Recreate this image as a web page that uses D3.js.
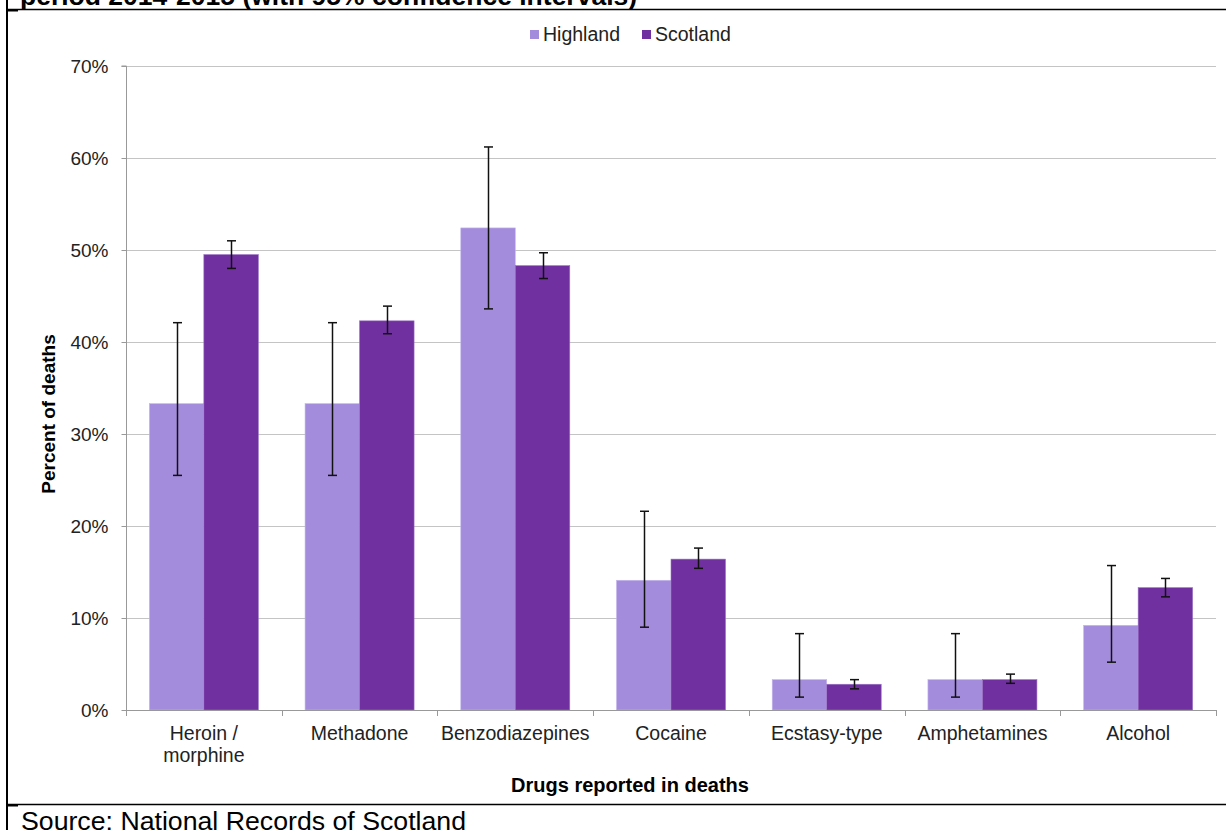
<!DOCTYPE html>
<html>
<head>
<meta charset="utf-8">
<script src="https://cdn.jsdelivr.net/npm/d3@7"></script>
<style>
  html, body { margin: 0; padding: 0; background: #fff; }
  svg { display: block; font-family: "Liberation Sans", Arial, sans-serif; }
</style>
</head>
<body>
<svg id="chart" width="1226" height="830"></svg>
<script>
// Drugs reported in drug-related deaths, Highland vs Scotland (percent, with 95% CI)
const categories = [["Heroin /", "morphine"], ["Methadone"], ["Benzodiazepines"], ["Cocaine"], ["Ecstasy-type"], ["Amphetamines"], ["Alcohol"]];
const seriesNames = ["Highland", "Scotland"];
const highland = [33.3, 33.3, 52.4, 14.1, 3.3, 3.3, 9.2];
const highlandLow = [25.5, 25.5, 43.6, 9.0, 1.4, 1.4, 5.2];
const highlandHigh = [42.1, 42.1, 61.2, 21.6, 8.3, 8.3, 15.7];
const scotland = [49.5, 42.3, 48.3, 16.4, 2.8, 3.3, 13.3];
const scotlandLow = [48.0, 40.9, 46.9, 15.4, 2.3, 2.9, 12.3];
const scotlandHigh = [51.0, 43.9, 49.7, 17.6, 3.3, 3.9, 14.3];
const yTicks = [0, 10, 20, 30, 40, 50, 60, 70];
const colors = ["#a48cdc", "#7030a0"];

const svg = d3.select("#chart");
const plotLeft = 126, plotRight = 1216, plotTop = 66, plotBottom = 710;

const x0 = d3.scaleBand().domain(d3.range(categories.length)).range([plotLeft, plotRight]).paddingInner(0.3).paddingOuter(0.15);
const x1 = d3.scaleBand().domain(d3.range(seriesNames.length)).range([0, x0.bandwidth()]);
const y = d3.scaleLinear().domain([0, 70]).range([plotBottom, plotTop]);

// title cell, clipped at the frame line
svg.append("clipPath").attr("id", "titleClip").append("rect").attr("x", 0).attr("y", 0).attr("width", 1226).attr("height", 9);
svg.append("text").attr("clip-path", "url(#titleClip)").attr("x", 20).attr("y", 5).attr("font-size", 26.5).attr("font-weight", "bold")
  .text("period 2014-2015 (with 95% confidence intervals)");

// outer frame pieces
svg.append("line").attr("x1", 7).attr("x2", 7).attr("y1", 0).attr("y2", 830).attr("stroke", "#000").attr("stroke-width", 2);
svg.append("line").attr("x1", 7).attr("x2", 1226).attr("y1", 9.5).attr("y2", 9.5).attr("stroke", "#000").attr("stroke-width", 1.5);
svg.append("line").attr("x1", 7).attr("x2", 1226).attr("y1", 804.5).attr("y2", 804.5).attr("stroke", "#000").attr("stroke-width", 1.5);
svg.append("line").attr("x1", 7).attr("x2", 18).attr("y1", 10.5).attr("y2", 10.5).attr("stroke", "#000").attr("stroke-width", 2);
svg.append("line").attr("x1", 7).attr("x2", 18).attr("y1", 805.5).attr("y2", 805.5).attr("stroke", "#000").attr("stroke-width", 2);

// source note
svg.append("text").attr("x", 21).attr("y", 830).attr("font-size", 26.7).attr("fill", "#000")
  .text("Source: National Records of Scotland");

// gridlines
svg.append("g").selectAll("line").data(yTicks.filter(d => d > 0)).join("line")
  .attr("x1", plotLeft).attr("x2", plotRight)
  .attr("y1", d => Math.round(y(d)) + 0.5).attr("y2", d => Math.round(y(d)) + 0.5)
  .attr("stroke", "#c4c4c4").attr("stroke-width", 1);

// y axis
const yAxis = svg.append("g").attr("transform", `translate(${plotLeft + 0.5},0)`)
  .call(d3.axisLeft(y).tickValues(yTicks).tickFormat(d => d + "%").tickSize(5).tickPadding(13));
yAxis.select(".domain").attr("stroke", "#999").attr("d", `M-5,${plotTop}H0V${plotBottom}`);
yAxis.selectAll(".tick line").attr("stroke", "#999");
yAxis.selectAll("text").attr("font-size", 19).attr("fill", "#222").attr("font-family", "Liberation Sans, Arial, sans-serif");

// bars
const series = [
  { vals: highland, lo: highlandLow, hi: highlandHigh },
  { vals: scotland, lo: scotlandLow, hi: scotlandHigh }
];
series.forEach((s, si) => {
  const g = svg.append("g");
  g.selectAll("rect").data(s.vals).join("rect")
    .attr("x", (d, i) => x0(i) + x1(si))
    .attr("y", d => y(d))
    .attr("width", x1.bandwidth())
    .attr("height", d => y(0) - y(d))
    .attr("fill", colors[si])
    .attr("stroke", si === 0 ? "#c4b6ec" : "#9a72c4").attr("stroke-width", 0.6);
});

// error bars
series.forEach((s, si) => {
  const g = svg.append("g").attr("stroke", "#111").attr("stroke-width", 1.5);
  s.vals.forEach((v, i) => {
    const cx = Math.round(x0(i) + x1(si) + x1.bandwidth() / 2) + 0.5;
    g.append("line").attr("x1", cx).attr("x2", cx).attr("y1", y(s.lo[i])).attr("y2", y(s.hi[i]));
    [s.lo[i], s.hi[i]].forEach(e => {
      g.append("line").attr("x1", cx - 4.5).attr("x2", cx + 4.5).attr("y1", y(e)).attr("y2", y(e));
    });
  });
});

// x axis baseline with ticks at category boundaries
const bounds = d3.range(categories.length + 1).map(i => plotLeft + (plotRight - plotLeft) * i / categories.length);
const xg = svg.append("g");
xg.append("line").attr("x1", plotLeft).attr("x2", plotRight).attr("y1", plotBottom + 0.5).attr("y2", plotBottom + 0.5).attr("stroke", "#999");
xg.selectAll("line.tk").data(bounds).join("line").attr("class", "tk")
  .attr("x1", d => Math.round(d) + 0.5).attr("x2", d => Math.round(d) + 0.5)
  .attr("y1", plotBottom).attr("y2", plotBottom + 6).attr("stroke", "#999");

// category labels
const lab = svg.append("g").attr("font-size", 19.5).attr("fill", "#222").attr("text-anchor", "middle");
categories.forEach((lines, i) => {
  const cx = x0(i) + x0.bandwidth() / 2;
  const t = lab.append("text").attr("x", cx).attr("y", 740);
  lines.forEach((ln, k) => t.append("tspan").attr("x", cx).attr("dy", k === 0 ? 0 : 22).text(ln));
});

// axis titles
svg.append("text").attr("x", 630).attr("y", 792).attr("text-anchor", "middle")
  .attr("font-size", 20).attr("font-weight", "bold").text("Drugs reported in deaths");
svg.append("text").attr("transform", `translate(55,414) rotate(-90)`).attr("text-anchor", "middle")
  .attr("font-size", 19).attr("font-weight", "bold").text("Percent of deaths");

// legend
const legendX = [530, 642];
const leg = svg.append("g");
seriesNames.forEach((n, i) => {
  leg.append("rect").attr("x", legendX[i]).attr("y", 30).attr("width", 9).attr("height", 9).attr("fill", colors[i]);
  leg.append("text").attr("x", legendX[i] + 13).attr("y", 41).attr("font-size", 19.5).attr("fill", "#222").text(n);
});
</script>
</body>
</html>
